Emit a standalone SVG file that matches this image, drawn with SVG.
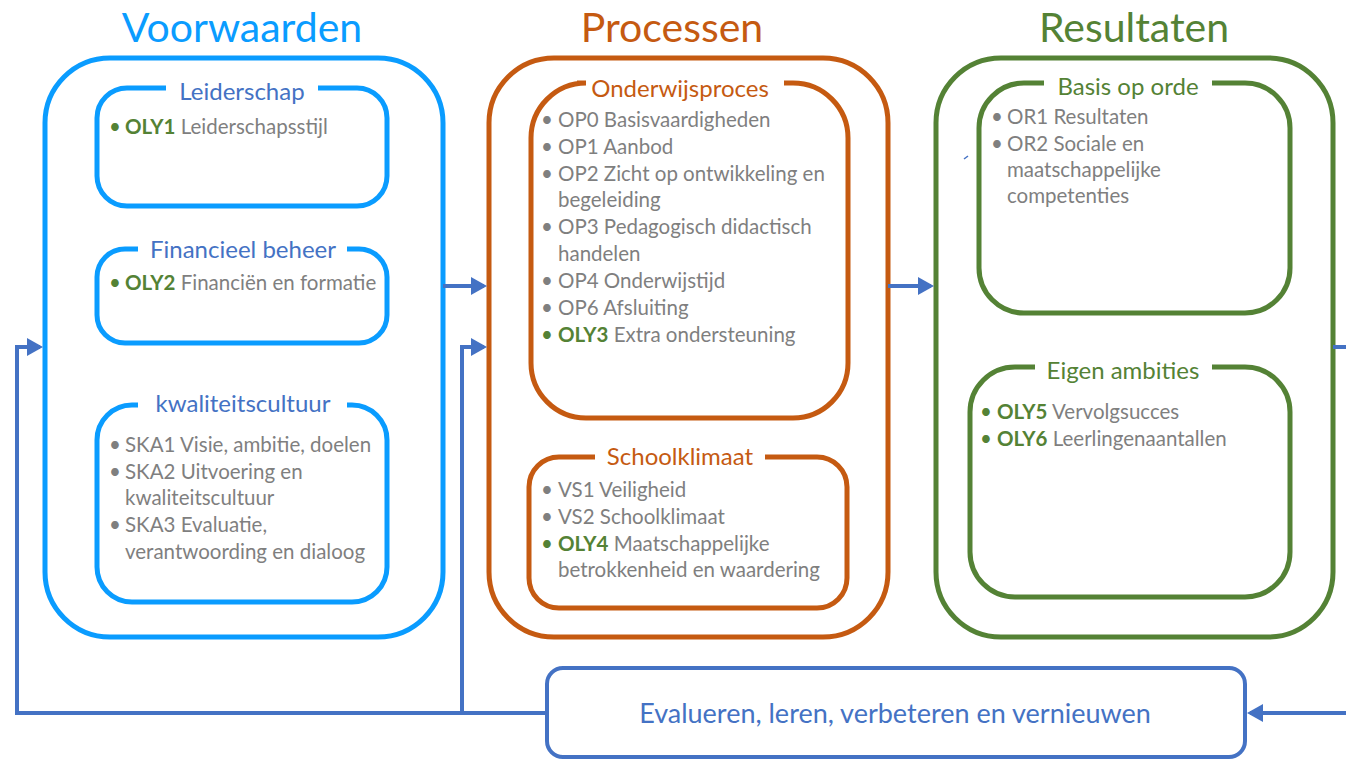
<svg xmlns="http://www.w3.org/2000/svg" width="1346" height="760" viewBox="0 0 1346 760">
<style>
.hdr{font-family:Lato,"Liberation Sans",sans-serif;font-size:41px;text-anchor:middle}
.ttl{font-family:Lato,"Liberation Sans",sans-serif;font-size:24px;text-anchor:middle}
.itm{font-family:Lato,"Liberation Sans",sans-serif;font-size:20.5px;fill:#7F7F7F}
.oly{font-weight:bold;fill:#548235}
.blue-o{fill:none;stroke:#0A9CFF;stroke-width:5}
.orng-o{fill:none;stroke:#C55A11;stroke-width:5}
.grn-o{fill:none;stroke:#548235;stroke-width:5}
.conn{fill:none;stroke:#4472C4;stroke-width:4}
</style>
<defs>
<marker id="ah" markerUnits="userSpaceOnUse" markerWidth="16" markerHeight="18" refX="13" refY="9" orient="auto">
<path d="M0,0 L16,9 L0,18 z" fill="#4472C4"/>
</marker>
</defs>
<rect width="1346" height="760" fill="#FFFFFF"/>

<g id="voorwaarden">
<text class="hdr" x="242" y="42" fill="#0A9CFF">Voorwaarden</text>
<rect class="blue-o" x="45" y="58" width="398" height="579" rx="65"/>
</g>
<g id="leiderschap">
<path class="blue-o" d="M318 88 H357 A30 30 0 0 1 387 118 V176 A30 30 0 0 1 357 206 H127 A30 30 0 0 1 97 176 V118 A30 30 0 0 1 127 88 H166"/>
<text class="ttl" x="242" y="100" fill="#4472C4">Leiderschap</text>
<text class="itm" x="109" y="134"><tspan fill="#548235">•</tspan><tspan x="125" class="oly">OLY1</tspan> Leiderschapsstijl</text>
</g>
<g id="financieel">
<path class="blue-o" d="M347 249 H359 A28 28 0 0 1 387 277 V315 A28 28 0 0 1 359 343 H125 A28 28 0 0 1 97 315 V277 A28 28 0 0 1 125 249 H138"/>
<text class="ttl" x="243" y="258" fill="#4472C4">Financieel beheer</text>
<text class="itm" x="109" y="290"><tspan fill="#548235">•</tspan><tspan x="125" class="oly">OLY2</tspan> Financiën en formatie</text>
</g>
<g id="kwaliteitscultuur">
<path class="blue-o" d="M347 405 H352 A35 35 0 0 1 387 440 V567 A35 35 0 0 1 352 602 H132 A35 35 0 0 1 97 567 V440 A35 35 0 0 1 132 405 H138"/>
<text class="ttl" x="243" y="412" fill="#4472C4">kwaliteitscultuur</text>
<text class="itm" x="109" y="452">•<tspan x="125">SKA1 Visie, ambitie, doelen</tspan></text>
<text class="itm" x="109" y="479">•<tspan x="125">SKA2 Uitvoering en</tspan></text>
<text class="itm" x="125" y="505">kwaliteitscultuur</text>
<text class="itm" x="109" y="532">•<tspan x="125">SKA3 Evaluatie,</tspan></text>
<text class="itm" x="125" y="559">verantwoording en dialoog</text>
</g>

<g id="processen">
<text class="hdr" x="672" y="42" fill="#C55A11">Processen</text>
<rect class="orng-o" x="489" y="58" width="399" height="579" rx="65"/>
</g>
<g id="onderwijsproces">
<path class="orng-o" d="M784 83 H793 A55 55 0 0 1 848 138 V363 A55 55 0 0 1 793 418 H586 A55 55 0 0 1 531 363 V138 A55 55 0 0 1 586 83 H577"/>
<text class="ttl" x="680" y="97" fill="#C55A11">Onderwijsproces</text>
<text class="itm" x="541" y="127">•<tspan x="558">OP0 Basisvaardigheden</tspan></text>
<text class="itm" x="541" y="154">•<tspan x="558">OP1 Aanbod</tspan></text>
<text class="itm" x="541" y="181">•<tspan x="558">OP2 Zicht op ontwikkeling en</tspan></text>
<text class="itm" x="558" y="207">begeleiding</text>
<text class="itm" x="541" y="234">•<tspan x="558">OP3 Pedagogisch didactisch</tspan></text>
<text class="itm" x="558" y="261">handelen</text>
<text class="itm" x="541" y="288">•<tspan x="558">OP4 Onderwijstijd</tspan></text>
<text class="itm" x="541" y="315">•<tspan x="558">OP6 Afsluiting</tspan></text>
<text class="itm" x="541" y="342"><tspan fill="#548235">•</tspan><tspan x="558" class="oly">OLY3</tspan> Extra ondersteuning</text>
</g>
<g id="schoolklimaat">
<path class="orng-o" d="M765 457 H817 A30 30 0 0 1 847 487 V578 A30 30 0 0 1 817 608 H559 A30 30 0 0 1 529 578 V487 A30 30 0 0 1 559 457 H595"/>
<text class="ttl" x="680" y="465" fill="#C55A11">Schoolklimaat</text>
<text class="itm" x="541" y="497">•<tspan x="558">VS1 Veiligheid</tspan></text>
<text class="itm" x="541" y="524">•<tspan x="558">VS2 Schoolklimaat</tspan></text>
<text class="itm" x="541" y="551"><tspan fill="#548235">•</tspan><tspan x="558" class="oly">OLY4</tspan> Maatschappelijke</text>
<text class="itm" x="558" y="577">betrokkenheid en waardering</text>
</g>

<g id="resultaten">
<text class="hdr" x="1134" y="42" fill="#548235">Resultaten</text>
<rect class="grn-o" x="936" y="58" width="397" height="579" rx="65"/>
</g>
<g id="basis">
<path class="grn-o" d="M1212 83 H1245 A45 45 0 0 1 1290 128 V268 A45 45 0 0 1 1245 313 H1024 A45 45 0 0 1 979 268 V128 A45 45 0 0 1 1024 83 H1044"/>
<text class="ttl" x="1128" y="95" fill="#548235">Basis op orde</text>
<text class="itm" x="991" y="124">•<tspan x="1007">OR1 Resultaten</tspan></text>
<text class="itm" x="991" y="151">•<tspan x="1007">OR2 Sociale en</tspan></text>
<text class="itm" x="1007" y="177">maatschappelijke</text>
<text class="itm" x="1007" y="203">competenties</text>
</g>
<g id="eigen">
<path class="grn-o" d="M1212 367 H1245 A45 45 0 0 1 1290 412 V552 A45 45 0 0 1 1245 597 H1015 A45 45 0 0 1 970 552 V412 A45 45 0 0 1 1015 367 H1035"/>
<text class="ttl" x="1123" y="379" fill="#548235">Eigen ambities</text>
<text class="itm" x="980" y="419"><tspan fill="#548235">•</tspan><tspan x="997" class="oly">OLY5</tspan> Vervolgsucces</text>
<text class="itm" x="980" y="446"><tspan fill="#548235">•</tspan><tspan x="997" class="oly">OLY6</tspan> Leerlingenaantallen</text>
</g>

<g id="evalueren">
<rect x="547" y="668" width="698" height="89" rx="16" fill="#FFFFFF" stroke="#4472C4" stroke-width="4"/>
<text x="895" y="723" font-family="Lato,'Liberation Sans',sans-serif" font-size="27" fill="#4472C4" text-anchor="middle">Evalueren, leren, verbeteren en vernieuwen</text>
</g>

<g id="connectors">
<path class="conn" d="M443 286 H484" marker-end="url(#ah)"/>
<path class="conn" d="M888 286 H931" marker-end="url(#ah)"/>
<path class="conn" d="M547 713 H17 V347 H40" marker-end="url(#ah)"/>
<path class="conn" d="M462 711 V347 H484" marker-end="url(#ah)"/>
<path class="conn" d="M1333 347 H1346"/>
<path class="conn" d="M1346 713 H1250" marker-end="url(#ah)"/>
<path d="M964 159 L968 156" stroke="#4472C4" stroke-width="1.5"/>
</g>
</svg>
